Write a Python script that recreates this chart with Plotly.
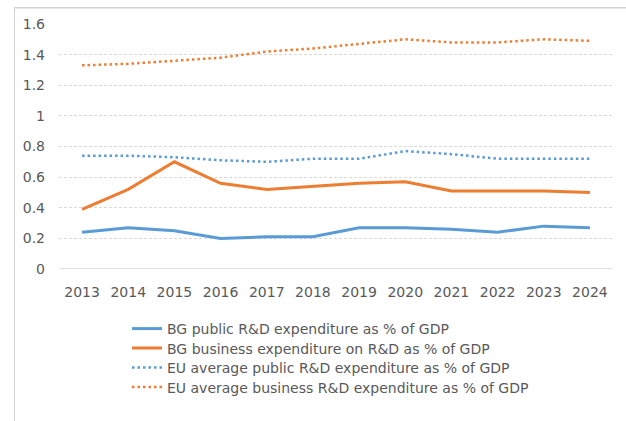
import plotly.graph_objects as go

years = ["2013", "2014", "2015", "2016", "2017", "2018", "2019", "2020", "2021", "2022", "2023", "2024"]
bg_public = [0.24, 0.27, 0.25, 0.20, 0.21, 0.21, 0.27, 0.27, 0.26, 0.24, 0.28, 0.27]
bg_business = [0.39, 0.52, 0.70, 0.56, 0.52, 0.54, 0.56, 0.57, 0.51, 0.51, 0.51, 0.50]
eu_public = [0.74, 0.74, 0.73, 0.71, 0.70, 0.72, 0.72, 0.77, 0.75, 0.72, 0.72, 0.72]
eu_business = [1.33, 1.34, 1.36, 1.38, 1.42, 1.44, 1.47, 1.50, 1.48, 1.48, 1.50, 1.49]
names = [
    "BG public R&D expenditure as % of GDP",
    "BG business expenditure on R&D as % of GDP",
    "EU average public R&D expenditure as % of GDP",
    "EU average business R&D expenditure as % of GDP",
]
y_ticks = [0, 0.2, 0.4, 0.6, 0.8, 1, 1.2, 1.4, 1.6]
y_tick_labels = ["0", "0.2", "0.4", "0.6", "0.8", "1", "1.2", "1.4", "1.6"]

BLUE = "#5B9BD5"
ORANGE = "#ED7D31"
TXT = "#595959"
FONT = "DejaVu Sans"

W, H = 626, 421
L, R, T, B = 59, 13, 24, 152
pw, ph = W - L - R, H - T - B

legend_ids = ["legend", "legend2", "legend3", "legend4"]
legend_rows_px = [329, 348.5, 368, 387.5]

fig = go.Figure()
series = [
    (bg_public, BLUE, "solid", 3),
    (bg_business, ORANGE, "solid", 3),
    (eu_public, BLUE, "2.5px,3px", 2.5),
    (eu_business, ORANGE, "2.5px,3px", 2.5),
]
for (vals, col, dash, w), nm, lg in zip(series, names, legend_ids):
    fig.add_trace(go.Scatter(x=years, y=vals, mode="lines", name=nm, legend=lg,
                             line=dict(color=col, width=w, dash=dash)))

legend_common = dict(orientation="v", x=(127 - L) / pw, xanchor="left", yanchor="middle",
                     font=dict(family=FONT, size=14, color=TXT),
                     itemwidth=30, bgcolor="rgba(0,0,0,0)")
legends = {lg: dict(legend_common, y=-(py - (T + ph)) / ph)
           for lg, py in zip(legend_ids, legend_rows_px)}

fig.update_layout(
    width=W, height=H,
    margin=dict(l=L, r=R, t=T, b=B),
    paper_bgcolor="white", plot_bgcolor="white",
    font=dict(family=FONT, size=14, color=TXT),
    showlegend=True,
    xaxis=dict(type="category", range=[-0.5, 11.5], showgrid=False,
               showline=False, ticks="", tickfont=dict(size=14, color=TXT),
               zeroline=False, ticklabelstandoff=13),
    yaxis=dict(range=[0, 1.6], tickvals=y_ticks, ticktext=y_tick_labels,
               showgrid=True, gridcolor="#d9d9d9", griddash="3px,2px", gridwidth=1,
               zeroline=False, showline=False, ticks="", ticklabelstandoff=13,
               tickfont=dict(size=14, color=TXT)),
    **legends,
)
# zero baseline
fig.add_shape(type="line", xref="paper", yref="y", x0=0, x1=1, y0=0, y1=0,
              line=dict(color="#d9d9d9", width=1.5))
# outer border: left edge and top edge as thin filled strips
fig.add_shape(type="rect", xref="paper", yref="paper",
              x0=(14 - L) / pw, x1=(15 - L) / pw, y0=-(B + 10) / ph, y1=1 + (T - 7) / ph,
              line=dict(width=0), fillcolor="#d4d4d4", layer="above")
fig.add_shape(type="rect", xref="paper", yref="paper",
              x0=(14 - L) / pw, x1=(W - L + 10) / pw, y0=1 + (T - 8.5) / ph, y1=1 + (T - 7) / ph,
              line=dict(width=0), fillcolor="#d4d4d4", layer="above")

fig.write_html("out.html", config={"displayModeBar": False},
               post_script="document.body.style.margin='0';document.body.style.overflow='hidden';")
